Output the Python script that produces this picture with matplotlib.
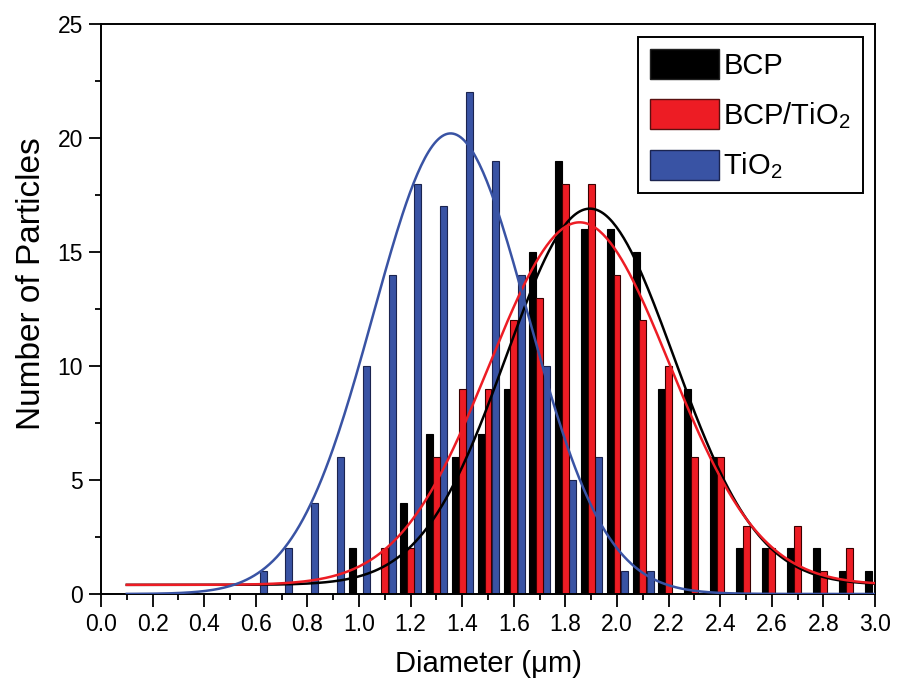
import numpy as np
import matplotlib
matplotlib.use("Agg")
import matplotlib.pyplot as plt
from matplotlib.patches import Patch
from matplotlib.ticker import MultipleLocator, FormatStrFormatter

plt.rcParams['font.family'] = ['Liberation Sans', 'DejaVu Sans']
plt.rcParams['mathtext.fontset'] = 'custom'
plt.rcParams['mathtext.rm'] = 'Liberation Sans'
plt.rcParams['mathtext.default'] = 'regular'

# histogram bins (lower edge of each 0.1 um bin)
bins = [0.6, 0.7, 0.8, 0.9, 1.0, 1.1, 1.2, 1.3, 1.4, 1.5, 1.6, 1.7,
        1.8, 1.9, 2.0, 2.1, 2.2, 2.3, 2.4, 2.5, 2.6, 2.7, 2.8, 2.9]
tio2 = [1, 2, 4, 6, 10, 14, 18, 17, 22, 19, 14, 10,
        5, 6, 1, 1, 0, 0, 0, 0, 0, 0, 0, 0]
bcp = [0, 0, 0, 2, 0, 4, 7, 6, 7, 9, 15, 19,
       16, 16, 15, 9, 9, 6, 2, 2, 2, 2, 1, 1]
bcp_tio2 = [0, 0, 0, 0, 2, 2, 6, 9, 9, 12, 13, 18,
            18, 14, 12, 10, 6, 6, 3, 2, 3, 1, 2, 0]

# gaussian fit parameters: baseline, centre, sigma, height
fit_tio2 = (0.0, 1.355, 0.30, 20.2)
fit_bcp = (0.4, 1.895, 0.325, 16.5)
fit_bcp_tio2 = (0.4, 1.855, 0.35, 15.9)

blue = '#3953a4'
red = '#ed1c24'
black = '#000000'


def gauss(x, p):
    y0, xc, s, h = p
    return y0 + h * np.exp(-(x - xc) ** 2 / (2 * s ** 2))


fig = plt.figure(figsize=(8.97, 6.81), dpi=100)
ax = fig.add_axes([0.1126, 0.1278, 0.8629, 0.837])

b = np.array(bins)
w = 0.027
ax.bar(b + 0.028, tio2, width=w, color=blue, edgecolor='#1b2450', linewidth=0.8, zorder=2)
ax.bar(b + 0.074, bcp, width=w, color=black, edgecolor='black', linewidth=0.8, zorder=2)
ax.bar(b + 0.100, bcp_tio2, width=w, color=red, edgecolor='#3a0000', linewidth=0.8, zorder=2)

xs = np.linspace(0.1, 3.0, 400)
ax.plot(xs, gauss(xs, fit_bcp), color=black, lw=1.8, zorder=3)
ax.plot(xs, gauss(xs, fit_bcp_tio2), color=red, lw=1.8, zorder=3)
ax.plot(xs, gauss(xs, fit_tio2), color=blue, lw=1.8, zorder=3)

ax.set_xlim(0, 3.0)
ax.set_ylim(0, 25)
ax.xaxis.set_major_locator(MultipleLocator(0.2))
ax.xaxis.set_minor_locator(MultipleLocator(0.1))
ax.xaxis.set_major_formatter(FormatStrFormatter('%.1f'))
ax.yaxis.set_major_locator(MultipleLocator(5))
ax.yaxis.set_minor_locator(MultipleLocator(2.5))
ax.tick_params(which='major', length=9, width=1.3, labelsize=16.5, direction='out')
ax.tick_params(axis='x', which='major', pad=5)
ax.tick_params(axis='y', which='major', pad=4)
ax.tick_params(which='minor', length=4.5, width=1.3, direction='out')
for sp in ax.spines.values():
    sp.set_linewidth(1.4)

ax.set_xlabel('Diameter (\u03bcm)', fontsize=21, labelpad=10)
ax.set_ylabel('Number of Particles', fontsize=24)
ax.yaxis.set_label_coords(-0.07, 0.545)

handles = [Patch(facecolor=black, edgecolor='#222222'),
           Patch(facecolor=red, edgecolor='#5a1010'),
           Patch(facecolor=blue, edgecolor='#1b2450')]
labels = ['BCP', 'BCP/TiO$_2$', 'TiO$_2$']
leg = ax.legend(handles, labels, loc='upper right', bbox_to_anchor=(0.9845, 0.977),
                borderaxespad=0, fontsize=21, fancybox=False, framealpha=1,
                edgecolor='black', handlelength=2.35, handleheight=1.2,
                handletextpad=0.15, labelspacing=0.65, borderpad=0.42)
leg.get_frame().set_linewidth(1.4)

fig.savefig('out.png', dpi=100)
